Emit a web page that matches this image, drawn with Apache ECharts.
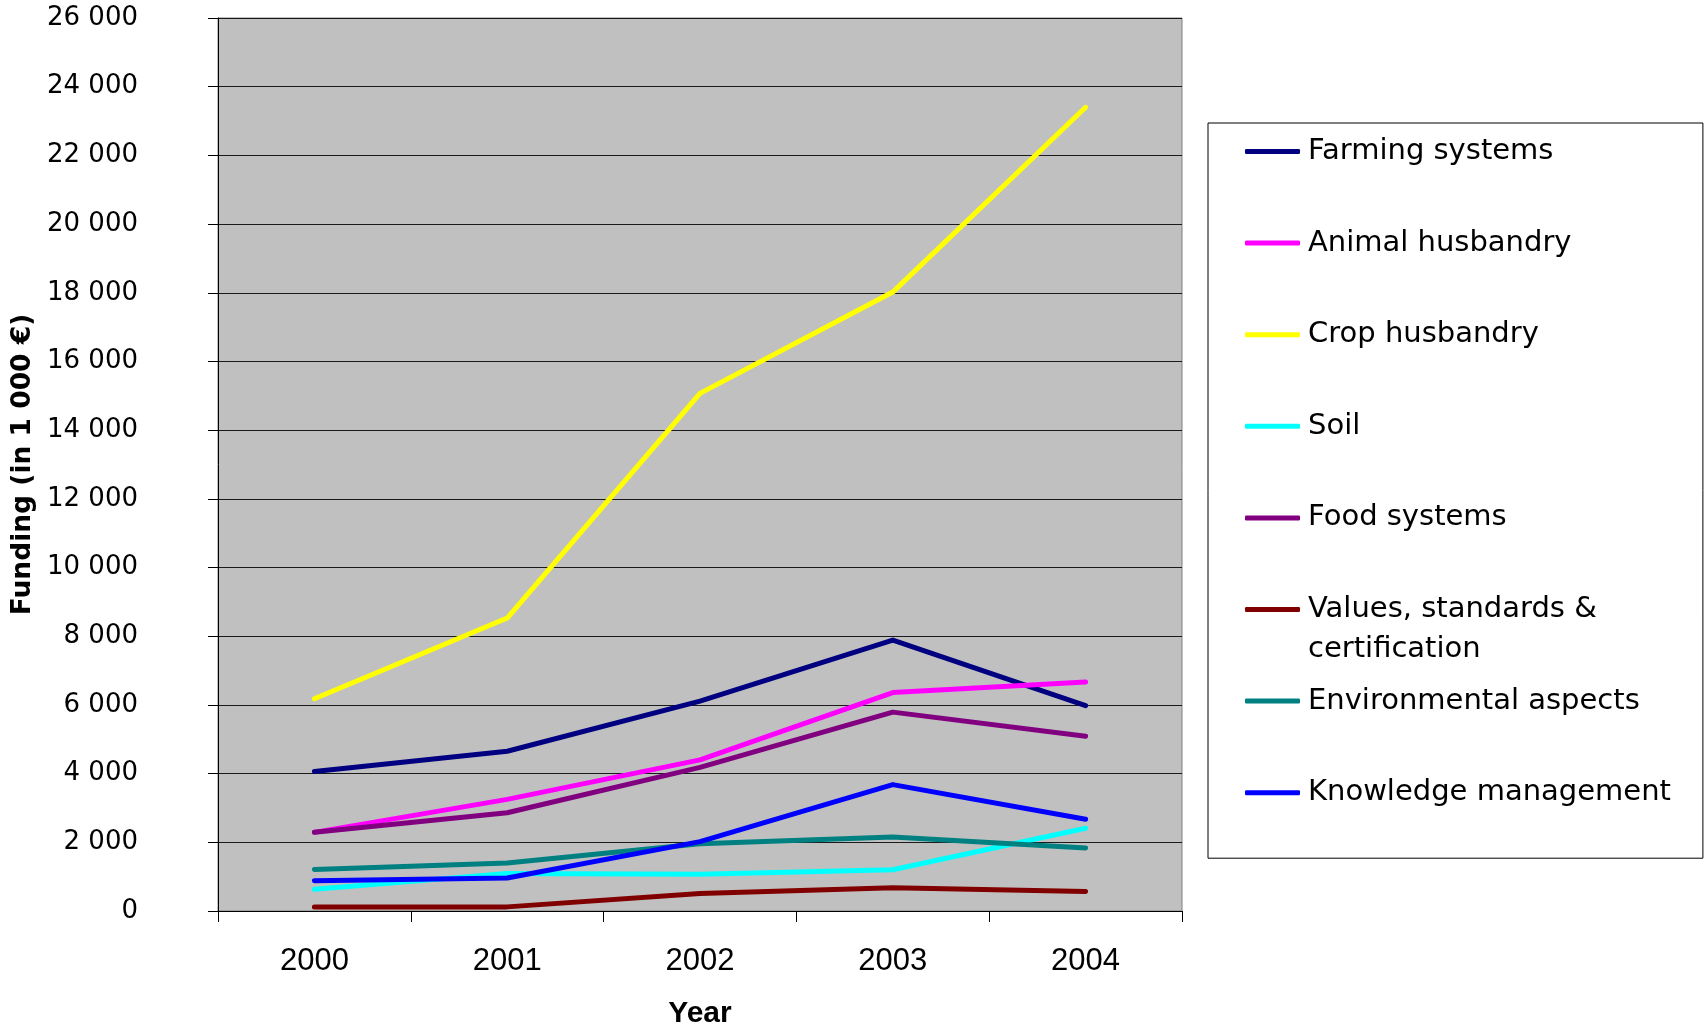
<!DOCTYPE html>
<html>
<head>
<meta charset="utf-8">
<script src="https://cdn.jsdelivr.net/npm/echarts@6/dist/echarts.min.js"></script>
<style>
  html, body { margin: 0; padding: 0; background: #fff; }
  #chart { width: 1705px; height: 1022px; }
</style>
</head>
<body>
<div id="chart"></div>
<script>
(function () {

  var years = ['2000', '2001', '2002', '2003', '2004'];

  var farmingSystems = [4060, 4650, 6110, 7890, 5980];
  var animalHusbandry = [2290, 3250, 4400, 6360, 6670];
  var cropHusbandry = [6180, 8530, 15070, 18020, 23400];
  var soil = [630, 1090, 1070, 1200, 2410];
  var foodSystems = [2290, 2860, 4180, 5790, 5090];
  var valuesStandards = [120, 120, 510, 680, 570];
  var environmental = [1210, 1400, 1960, 2155, 1835];
  var knowledge = [880, 960, 2020, 3680, 2670];

  var seriesList = [
    ['Farming systems', farmingSystems, '#000080'],
    ['Animal husbandry', animalHusbandry, '#ff00ff'],
    ['Crop husbandry', cropHusbandry, '#ffff00'],
    ['Soil', soil, '#00ffff'],
    ['Food systems', foodSystems, '#800080'],
    ['Values, standards & certification', valuesStandards, '#800000'],
    ['Environmental aspects', environmental, '#008080'],
    ['Knowledge management', knowledge, '#0000ff']
  ];

  // legend geometry (the one two-line entry wraps below its symbol, as in the original)
  var legendLeft = 1208, legendTop = 123, padTop = 8, padLeft = 37;
  var itemH = 41, itemGap = 50.6, fontSize = 29;

  var myChart = echarts.init(document.getElementById('chart'));

  var option = {
    animation: false,
    backgroundColor: '#fff',
    grid: {
      left: 218,
      right: 523,
      top: 18,
      bottom: 111,
      outerBoundsMode: 'none',
      containLabel: false,
      show: true,
      backgroundColor: '#c0c0c0',
      borderColor: '#808080',
      borderWidth: 1
    },
    legend: {
      orient: 'vertical',
      left: legendLeft,
      top: legendTop,
      padding: [padTop, 32, 45, padLeft],
      backgroundColor: '#fff',
      borderColor: '#000',
      borderWidth: 1,
      borderRadius: 0,
      itemWidth: 55,
      itemHeight: 5,
      itemGap: itemGap,
      icon: 'roundRect',
      textStyle: {
        fontFamily: 'DejaVu Sans',
        fontSize: fontSize,
        lineHeight: itemH,
        padding: [0, 0, 0, 3],
        color: '#000'
      },
      formatter: function (name) {
        return name === 'Values, standards & certification' ? 'Values, standards &' : name;
      },
      data: seriesList.map(function (s) { return s[0]; })
    },
    graphic: [{
      type: 'text',
      left: legendLeft + padLeft + 55 + 5 + 3,
      top: legendTop + padTop + 5 * (itemH + itemGap) + itemH + 5,
      style: {
        text: 'certification',
        fontFamily: 'DejaVu Sans',
        fontSize: fontSize,
        fill: '#000'
      },
      z: 100
    }],
    xAxis: {
      type: 'category',
      data: years,
      boundaryGap: true,
      name: 'Year',
      nameLocation: 'middle',
      nameGap: 88,
      nameTextStyle: {
        fontFamily: 'Liberation Sans',
        fontWeight: 'bold',
        fontSize: 30,
        color: '#000'
      },
      axisLine: { lineStyle: { color: '#000', width: 1 } },
      axisTick: { show: true, length: 11, lineStyle: { color: '#000' } },
      axisLabel: {
        margin: 35,
        fontFamily: 'Liberation Sans',
        fontSize: 31,
        color: '#000'
      },
      splitLine: { show: false }
    },
    yAxis: {
      type: 'value',
      min: 0,
      max: 26000,
      interval: 2000,
      name: 'Funding (in 1 000 €)',
      nameLocation: 'middle',
      nameGap: 165,
      nameTextStyle: {
        fontFamily: 'DejaVu Sans',
        fontWeight: 'bold',
        fontSize: 26.5,
        color: '#000'
      },
      axisLine: { show: true, lineStyle: { color: '#000', width: 1 } },
      axisTick: { show: true, length: 10, lineStyle: { color: '#000' } },
      axisLabel: {
        margin: 80,
        fontFamily: 'DejaVu Sans',
        fontSize: 26,
        color: '#000',
        formatter: function (v) {
          return v === 0 ? '0' : (v / 1000) + ' 000';
        }
      },
      splitLine: { show: true, lineStyle: { color: '#1a1a1a', width: 1 } }
    },
    series: seriesList.map(function (s) {
      return {
        name: s[0],
        type: 'line',
        data: s[1],
        color: s[2],
        showSymbol: false,
        symbol: 'none',
        itemStyle: { color: s[2] },
        lineStyle: { color: s[2], width: 5, cap: 'round', join: 'round' }
      };
    })
  };

  myChart.setOption(option);
})();
</script>
</body>
</html>
